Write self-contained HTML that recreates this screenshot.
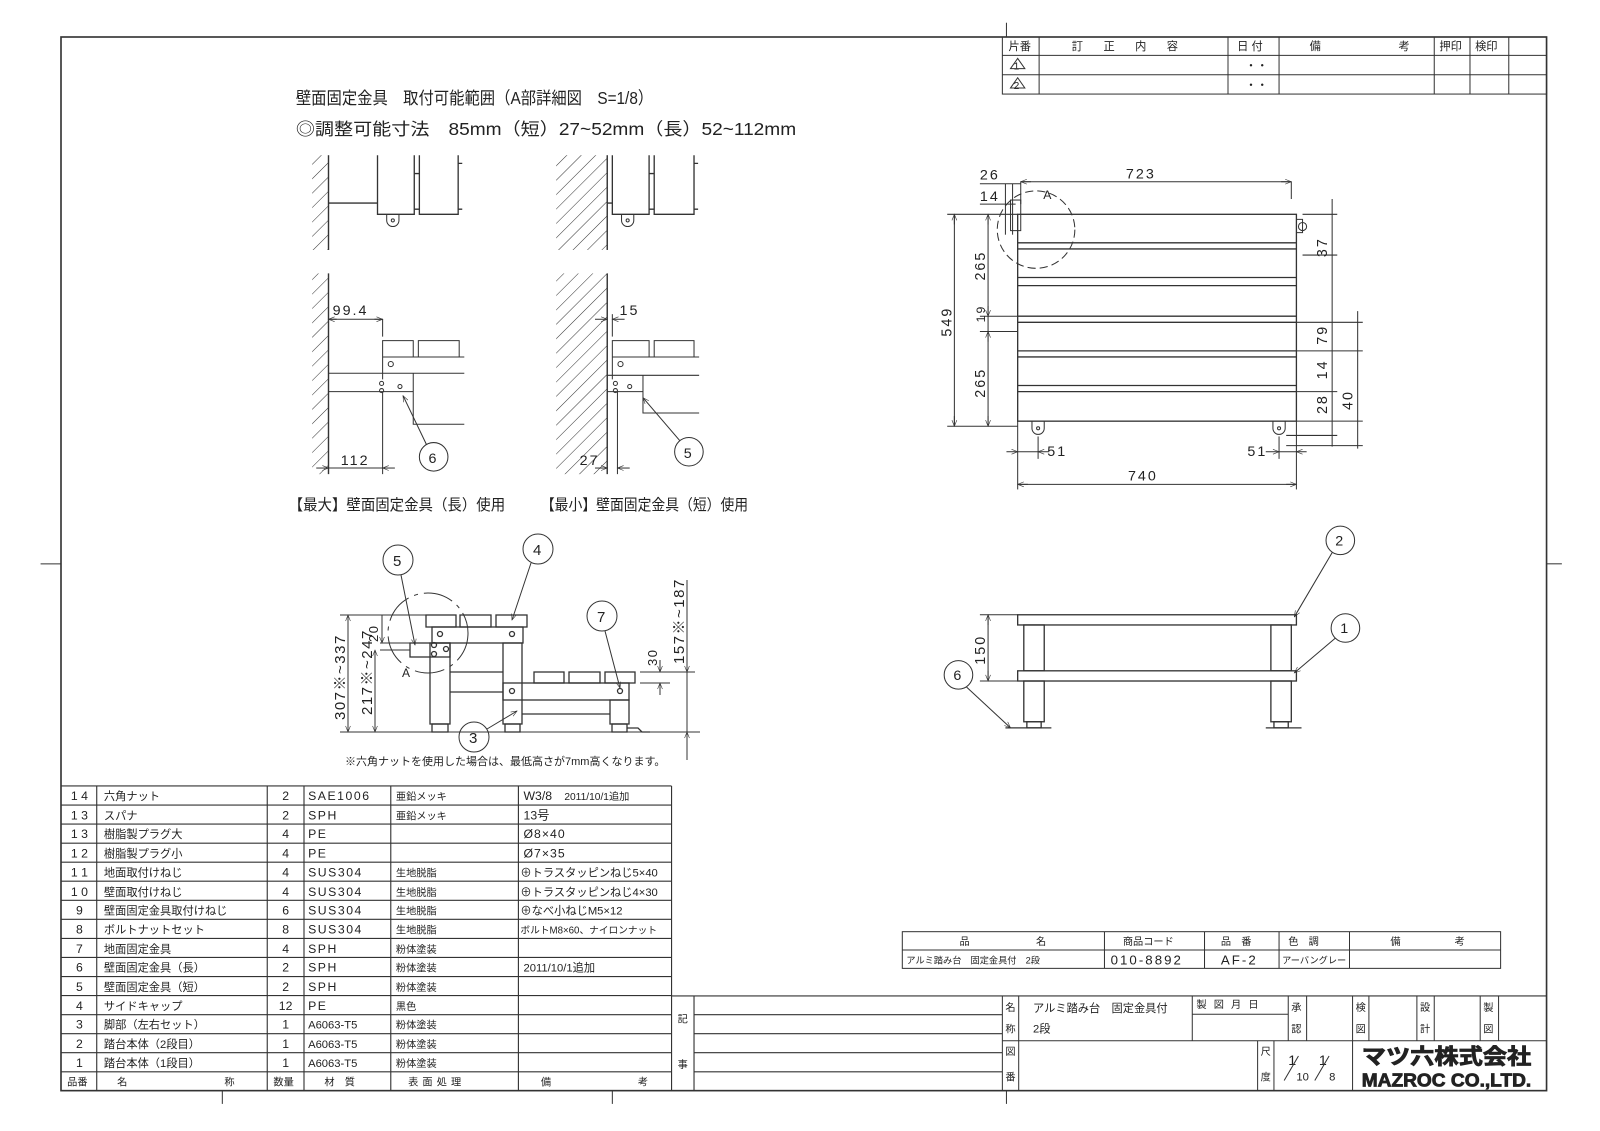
<!DOCTYPE html>
<html><head><meta charset="utf-8"><style>
html,body{margin:0;padding:0;background:#fff;}
svg{display:block}
text{font-family:"Liberation Sans","Noto Sans CJK JP",sans-serif;fill:#222}
</style></head><body>
<svg width="1600" height="1131" viewBox="0 0 1600 1131" xmlns="http://www.w3.org/2000/svg">
<defs>
<pattern id="h" width="10" height="10" patternUnits="userSpaceOnUse" patternTransform="rotate(45)">
<line x1="0" y1="0" x2="0" y2="10" stroke="#333" stroke-width="1"/>
</pattern>
<marker id="a" viewBox="0 0 10 10" refX="10" refY="5" markerWidth="8" markerHeight="6" orient="auto-start-reverse"><path d="M0,1 L10,5 L0,9" fill="none" stroke="#333"/></marker>
</defs>
<g transform="translate(61,37) scale(1.021,1.019) translate(-60,-36)" stroke="#333" fill="none" stroke-width="1">
<rect x="60" y="36" width="1455" height="1034" stroke-width="1.6"/>
<line x1="218" y1="1070" x2="218" y2="1083"/><line x1="600" y1="1070" x2="600" y2="1083"/><line x1="986" y1="1070" x2="986" y2="1083"/>
<line x1="40" y1="553" x2="60" y2="553"/><line x1="986" y1="22" x2="986" y2="36"/><line x1="1515" y1="553" x2="1530" y2="553"/>
<rect x="982" y="36" width="533" height="56"/>
<line x1="982" y1="54" x2="1515" y2="54"/><line x1="982" y1="73" x2="1515" y2="73"/>
<line x1="1018" y1="36" x2="1018" y2="92"/><line x1="1203" y1="36" x2="1203" y2="92"/><line x1="1253" y1="36" x2="1253" y2="92"/><line x1="1405" y1="36" x2="1405" y2="92"/><line x1="1440" y1="36" x2="1440" y2="92"/><line x1="1478" y1="36" x2="1478" y2="92"/>
<g stroke="none" font-size="11">
<text x="988" y="49">片番</text><text x="1050" y="49" letter-spacing="20">訂正内容</text><text x="1212" y="49">日 付</text><text x="1283" y="49">備</text><text x="1370" y="49">考</text><text x="1410" y="49">押印</text><text x="1445" y="49">検印</text>
<text x="1220" y="68">・・</text><text x="1220" y="87">・・</text><text x="993" y="68" font-size="10">1</text><text x="993" y="87" font-size="10">2</text>
</g>
<path d="M990,67 L997,57 L1004,67Z M990,86 L997,76 L1004,86Z"/>
<g stroke="none" font-size="17">
<text x="290" y="102" textLength="350" lengthAdjust="spacingAndGlyphs">壁面固定金具　取付可能範囲（A部詳細図　S=1/8）</text>
<text x="290" y="132" textLength="490" lengthAdjust="spacingAndGlyphs">◎調整可能寸法　85mm（短）27~52mm（長）52~112mm</text>
<text x="283" y="500" font-size="15" textLength="212" lengthAdjust="spacingAndGlyphs">【最大】壁面固定金具（長）使用</text>
<text x="530" y="500" font-size="15" textLength="203" lengthAdjust="spacingAndGlyphs">【最小】壁面固定金具（短）使用</text>
</g>
<rect x="306" y="152" width="16" height="93" fill="url(#h)" stroke="none"/>
<line x1="322" y1="152" x2="322" y2="245" stroke-width="1.4"/>
<path d="M322,199 H370 M370,152 V210 H406 V152 M411,152 V210 H449 V152 M406,170 H411 M406,205 H411 M449,160 H453 M449,205 H453" stroke-width="1.3"/>
<path d="M379,210 V216 A6,6 0 0 0 391,216 V210"/><circle cx="385" cy="216" r="1.5"/>
<rect x="545" y="152" width="50" height="93" fill="url(#h)" stroke="none"/>
<line x1="595" y1="152" x2="595" y2="245" stroke-width="1.4"/>
<path d="M595,199 H600 M600,152 V210 H636 V152 M641,152 V210 H680 V152 M636,170 H641 M636,205 H641 M680,160 H684 M680,205 H684" stroke-width="1.3"/>
<path d="M609,210 V216 A6,6 0 0 0 621,216 V210"/><circle cx="615" cy="216" r="1.5"/>
<rect x="306" y="268" width="16" height="197" fill="url(#h)" stroke="none"/>
<line x1="322" y1="268" x2="322" y2="465" stroke-width="1.4"/>
<path d="M375,334 H405 V350 H375Z M410,334 H450 V350 H410Z M375,350 V372 M375,350 H455 M322,366 H405 V384 H322 M405,366 H455 M405,384 V416 H455 M375,384 V465"/>
<circle cx="383" cy="357" r="2.5"/><circle cx="374" cy="376" r="2"/><circle cx="374" cy="383" r="2"/><circle cx="392" cy="379" r="2"/>
<path d="M322,313 H375 M375,313 V330" /><line x1="330" y1="313" x2="322" y2="313" marker-end="url(#a)"/><line x1="367" y1="313" x2="375" y2="313" marker-end="url(#a)"/>
<line x1="310" y1="459" x2="322" y2="459" marker-end="url(#a)"/><line x1="387" y1="459" x2="375" y2="459" marker-end="url(#a)"/><line x1="322" y1="459" x2="375" y2="459"/>
<circle cx="425" cy="448" r="14"/><line x1="418" y1="436" x2="395" y2="388" marker-end="url(#a)"/>
<g stroke="none" font-size="14"><text x="326" y="309" letter-spacing="2">99.4</text><text x="334" y="456" letter-spacing="2">112</text><text x="420" y="454">6</text></g>
<rect x="545" y="268" width="50" height="197" fill="url(#h)" stroke="none"/>
<line x1="595" y1="268" x2="595" y2="465" stroke-width="1.4"/>
<path d="M600,334 H636 V350 H600Z M641,334 H680 V350 H641Z M600,350 V372 M600,350 H685 M595,368 H630 V384 H595 M630,368 H685 M630,384 V405 H685 M605,384 V465"/>
<circle cx="608" cy="357" r="2.5"/><circle cx="603" cy="376" r="2"/><circle cx="603" cy="383" r="2"/><circle cx="617" cy="379" r="2"/>
<line x1="583" y1="313" x2="595" y2="313" marker-end="url(#a)"/><line x1="612" y1="313" x2="600" y2="313" marker-end="url(#a)"/><line x1="600" y1="308" x2="600" y2="330"/>
<line x1="583" y1="459" x2="595" y2="459" marker-end="url(#a)"/><line x1="617" y1="459" x2="605" y2="459" marker-end="url(#a)"/>
<circle cx="675" cy="443" r="14"/><line x1="666" y1="432" x2="630" y2="390" marker-end="url(#a)"/>
<g stroke="none" font-size="14"><text x="607" y="309" letter-spacing="2">15</text><text x="568" y="456" letter-spacing="2">27</text><text x="670" y="449">5</text></g>
<g stroke-width="1.3">
<rect x="997" y="210" width="273" height="203"/>
<line x1="997" y1="238" x2="1270" y2="238"/><line x1="997" y1="244" x2="1270" y2="244"/>
<line x1="997" y1="272" x2="1270" y2="272"/><line x1="997" y1="280" x2="1270" y2="280"/>
<line x1="997" y1="310" x2="1270" y2="310"/><line x1="997" y1="316" x2="1270" y2="316"/>
<line x1="997" y1="344" x2="1270" y2="344"/><line x1="997" y1="350" x2="1270" y2="350"/>
<line x1="997" y1="378" x2="1270" y2="378"/><line x1="997" y1="384" x2="1270" y2="384"/>
</g>
<path d="M1011,413 V420 A6,6 0 0 0 1023,420 V413 M1247,413 V420 A6,6 0 0 0 1259,420 V413 M1270,215 H1276 V228 H1270"/>
<circle cx="1017" cy="420" r="1.5"/><circle cx="1253" cy="420" r="1.5"/><circle cx="1276" cy="222" r="4"/>
<rect x="990" y="196" width="10" height="30"/>
<circle cx="1015" cy="225" r="38" stroke-dasharray="8,4"/>
<line x1="1000" y1="178" x2="1265" y2="178"/><line x1="1000" y1="178" x2="1000" y2="200"/><line x1="1265" y1="178" x2="1265" y2="195" />
<line x1="1010" y1="178" x2="1000" y2="178" marker-end="url(#a)"/><line x1="1255" y1="178" x2="1265" y2="178" marker-end="url(#a)"/>
<line x1="985" y1="180" x2="985" y2="230"/><line x1="992" y1="180" x2="992" y2="230"/><line x1="960" y1="180" x2="1000" y2="180"/><line x1="960" y1="200" x2="995" y2="200"/>
<line x1="935" y1="210" x2="935" y2="418"/><line x1="928" y1="210" x2="997" y2="210"/><line x1="928" y1="418" x2="997" y2="418"/>
<line x1="935" y1="220" x2="935" y2="210" marker-end="url(#a)"/><line x1="935" y1="408" x2="935" y2="418" marker-end="url(#a)"/>
<line x1="968" y1="210" x2="968" y2="418"/><line x1="960" y1="310" x2="997" y2="310"/><line x1="960" y1="325" x2="997" y2="325"/>
<line x1="968" y1="220" x2="968" y2="210" marker-end="url(#a)"/><line x1="968" y1="300" x2="968" y2="310" marker-end="url(#a)"/><line x1="968" y1="335" x2="968" y2="325" marker-end="url(#a)"/><line x1="968" y1="408" x2="968" y2="418" marker-end="url(#a)"/>
<line x1="1305" y1="195" x2="1305" y2="438"/><line x1="1276" y1="210" x2="1310" y2="210"/><line x1="1276" y1="250" x2="1310" y2="250"/>
<line x1="1270" y1="316" x2="1335" y2="316"/><line x1="1270" y1="344" x2="1335" y2="344"/><line x1="1270" y1="384" x2="1310" y2="384"/><line x1="1270" y1="413" x2="1335" y2="413"/><line x1="1260" y1="427" x2="1310" y2="427"/><line x1="1260" y1="437" x2="1335" y2="437"/>
<line x1="1330" y1="305" x2="1330" y2="440"/>
<line x1="997" y1="443" x2="1017" y2="443"/><line x1="1028" y1="443" x2="1017" y2="443" marker-end="url(#a)"/><line x1="986" y1="443" x2="997" y2="443" marker-end="url(#a)"/>
<line x1="1253" y1="443" x2="1270" y2="443"/><line x1="1240" y1="443" x2="1253" y2="443" marker-end="url(#a)"/><line x1="1280" y1="443" x2="1270" y2="443" marker-end="url(#a)"/>
<line x1="997" y1="413" x2="997" y2="480"/><line x1="1270" y1="413" x2="1270" y2="480"/><line x1="1017" y1="428" x2="1017" y2="450"/><line x1="1253" y1="428" x2="1253" y2="450"/>
<line x1="997" y1="475" x2="1270" y2="475"/><line x1="1007" y1="475" x2="997" y2="475" marker-end="url(#a)"/><line x1="1260" y1="475" x2="1270" y2="475" marker-end="url(#a)"/>
<g stroke="none" font-size="14" letter-spacing="2">
<text x="1103" y="175">723</text><text x="960" y="176">26</text><text x="960" y="197">14</text><text x="1022" y="195" font-size="12">A</text>
<text x="1105" y="471">740</text><text x="1026" y="447">51</text><text x="1222" y="447">51</text>
<text transform="translate(932,330) rotate(-90)">549</text>
<text transform="translate(965,275) rotate(-90)">265</text>
<text transform="translate(965,316) rotate(-90)" font-size="12">19</text>
<text transform="translate(965,390) rotate(-90)">265</text>
<text transform="translate(1300,252) rotate(-90)">37</text>
<text transform="translate(1300,338) rotate(-90)">79</text>
<text transform="translate(1300,372) rotate(-90)">14</text>
<text transform="translate(1300,406) rotate(-90)">28</text>
<text transform="translate(1325,402) rotate(-90)">40</text>
</g>
<g stroke-width="1.3">
<rect x="997" y="603" width="273" height="10"/><rect x="997" y="658" width="273" height="10"/>
<rect x="1003" y="613" width="20" height="45"/><rect x="1245" y="613" width="20" height="45"/>
<rect x="1003" y="668" width="20" height="40"/><rect x="1245" y="668" width="20" height="40"/>
<rect x="1006" y="708" width="14" height="6"/><rect x="1248" y="708" width="14" height="6"/>
<path d="M985,714 H1030 M1240,714 H1275"/>
</g>
<line x1="960" y1="603" x2="997" y2="603"/><line x1="960" y1="668" x2="997" y2="668"/><line x1="968" y1="603" x2="968" y2="668"/>
<line x1="968" y1="613" x2="968" y2="603" marker-end="url(#a)"/><line x1="968" y1="658" x2="968" y2="668" marker-end="url(#a)"/>
<circle cx="1313" cy="530" r="14"/><line x1="1305" y1="542" x2="1268" y2="605" marker-end="url(#a)"/>
<circle cx="1318" cy="616" r="14"/><line x1="1308" y1="626" x2="1268" y2="660" marker-end="url(#a)"/>
<circle cx="939" cy="662" r="14"/><line x1="947" y1="674" x2="990" y2="714" marker-end="url(#a)"/>
<g stroke="none" font-size="14"><text x="1308" y="535">2</text><text x="1313" y="621">1</text><text x="934" y="667">6</text>
<text transform="translate(965,652) rotate(-90)" letter-spacing="2">150</text></g>
<g stroke-width="1.1">
<line x1="60" y1="771" x2="658" y2="771"/>
<line x1="60" y1="789.7" x2="658" y2="789.7"/><line x1="60" y1="808.4" x2="658" y2="808.4"/><line x1="60" y1="827.1" x2="658" y2="827.1"/><line x1="60" y1="845.8" x2="658" y2="845.8"/><line x1="60" y1="864.5" x2="658" y2="864.5"/><line x1="60" y1="883.2" x2="658" y2="883.2"/><line x1="60" y1="901.9" x2="658" y2="901.9"/><line x1="60" y1="920.6" x2="658" y2="920.6"/><line x1="60" y1="939.3" x2="658" y2="939.3"/><line x1="60" y1="958" x2="658" y2="958"/><line x1="60" y1="976.7" x2="658" y2="976.7"/><line x1="60" y1="995.4" x2="658" y2="995.4"/><line x1="60" y1="1014.1" x2="658" y2="1014.1"/><line x1="60" y1="1032.8" x2="658" y2="1032.8"/><line x1="60" y1="1051.5" x2="658" y2="1051.5"/>
<line x1="95" y1="771" x2="95" y2="1070"/><line x1="262" y1="771" x2="262" y2="1070"/><line x1="298" y1="771" x2="298" y2="1070"/><line x1="383" y1="771" x2="383" y2="1070"/><line x1="508" y1="771" x2="508" y2="1070"/><line x1="658" y1="771" x2="658" y2="1070"/>
<line x1="680" y1="977" x2="680" y2="1070"/>
<line x1="680" y1="995.4" x2="982" y2="995.4"/><line x1="680" y1="1014.1" x2="982" y2="1014.1"/><line x1="680" y1="1032.8" x2="982" y2="1032.8"/><line x1="680" y1="1051.5" x2="982" y2="1051.5"/>
<line x1="658" y1="977" x2="1515" y2="977"/>
</g>
<g stroke="none" font-size="12">
<g text-anchor="middle">
<text x="78" y="785">1 4</text><text x="78" y="804">1 3</text><text x="78" y="822">1 3</text><text x="78" y="841">1 2</text><text x="78" y="860">1 1</text><text x="78" y="879">1 0</text><text x="78" y="897">9</text><text x="78" y="916">8</text><text x="78" y="935">7</text><text x="78" y="953">6</text><text x="78" y="972">5</text><text x="78" y="991">4</text><text x="78" y="1009">3</text><text x="78" y="1028">2</text><text x="78" y="1047">1</text>
<text x="280" y="785">2</text><text x="280" y="804">2</text><text x="280" y="822">4</text><text x="280" y="841">4</text><text x="280" y="860">4</text><text x="280" y="879">4</text><text x="280" y="897">6</text><text x="280" y="916">8</text><text x="280" y="935">4</text><text x="280" y="953">2</text><text x="280" y="972">2</text><text x="280" y="991">12</text><text x="280" y="1009">1</text><text x="280" y="1028">1</text><text x="280" y="1047">1</text>
</g>
<g font-size="11">
<text x="102" y="785">六角ナット</text><text x="102" y="804">スパナ</text><text x="102" y="822">樹脂製プラグ大</text><text x="102" y="841">樹脂製プラグ小</text><text x="102" y="860">地面取付けねじ</text><text x="102" y="879">壁面取付けねじ</text><text x="102" y="897">壁面固定金具取付けねじ</text><text x="102" y="916">ボルトナットセット</text><text x="102" y="935">地面固定金具</text><text x="102" y="953">壁面固定金具（長）</text><text x="102" y="972">壁面固定金具（短）</text><text x="102" y="991">サイドキャップ</text><text x="102" y="1009">脚部（左右セット）</text><text x="102" y="1028">踏台本体（2段目）</text><text x="102" y="1047">踏台本体（1段目）</text>
</g>
<g letter-spacing="1.5">
<text x="302" y="785">SAE1006</text><text x="302" y="804">SPH</text><text x="302" y="822">PE</text><text x="302" y="841">PE</text><text x="302" y="860">SUS304</text><text x="302" y="879">SUS304</text><text x="302" y="897">SUS304</text><text x="302" y="916">SUS304</text><text x="302" y="935">SPH</text><text x="302" y="953">SPH</text><text x="302" y="972">SPH</text><text x="302" y="991">PE</text>
</g>
<text x="302" y="1009" font-size="11">A6063-T5</text><text x="302" y="1028" font-size="11">A6063-T5</text><text x="302" y="1047" font-size="11">A6063-T5</text>
<g font-size="10">
<text x="388" y="785">亜鉛メッキ</text><text x="388" y="804">亜鉛メッキ</text><text x="388" y="860">生地脱脂</text><text x="388" y="879">生地脱脂</text><text x="388" y="897">生地脱脂</text><text x="388" y="916">生地脱脂</text><text x="388" y="935">粉体塗装</text><text x="388" y="953">粉体塗装</text><text x="388" y="972">粉体塗装</text><text x="388" y="991">黒色</text><text x="388" y="1009">粉体塗装</text><text x="388" y="1028">粉体塗装</text><text x="388" y="1047">粉体塗装</text>
</g>
<text x="513" y="785">W3/8　<tspan font-size="10">2011/10/1追加</tspan></text><text x="513" y="804">13号</text><text x="513" y="822" letter-spacing="1">Ø8×40</text><text x="513" y="841" letter-spacing="1">Ø7×35</text>
<text x="510" y="860" font-size="11">⊕トラスタッピンねじ5×40</text><text x="510" y="879" font-size="11">⊕トラスタッピンねじ4×30</text><text x="510" y="897" font-size="11">⊕なべ小ねじM5×12</text><text x="510" y="916" font-size="9.5">ボルトM8×60、ナイロンナット</text><text x="513" y="953" font-size="11">2011/10/1追加</text>
<g font-size="10"><text x="66" y="1065">品番</text><text x="115" y="1065">名</text><text x="220" y="1065">称</text><text x="268" y="1065">数量</text><text x="318" y="1065">材　質</text><text x="400" y="1065" letter-spacing="4">表面処理</text><text x="530" y="1065">備</text><text x="625" y="1065">考</text>
<text x="664" y="1003">記</text><text x="664" y="1048">事</text></g>
</g>
<rect x="884" y="914" width="586" height="36"/><line x1="884" y1="932" x2="1470" y2="932"/>
<line x1="1082" y1="914" x2="1082" y2="950"/><line x1="1180" y1="914" x2="1180" y2="950"/><line x1="1253" y1="914" x2="1253" y2="950"/><line x1="1322" y1="914" x2="1322" y2="950"/>
<g stroke="none" font-size="10">
<text x="940" y="927">品</text><text x="1015" y="927">名</text><text x="1100" y="927">商品コード</text><text x="1196" y="927">品　番</text><text x="1262" y="927">色　調</text><text x="1362" y="927">備</text><text x="1425" y="927">考</text>
<text x="888" y="945" font-size="9">アルミ踏み台　固定金具付　2段</text><text x="1088" y="946" font-size="13" letter-spacing="2">010-8892</text><text x="1196" y="946" font-size="13" letter-spacing="2">AF-2</text><text x="1256" y="945" font-size="9">アーバングレー</text>
</g>
<line x1="982" y1="977" x2="982" y2="1070"/><line x1="998" y1="977" x2="998" y2="1070"/><line x1="982" y1="1021" x2="1515" y2="1021"/>
<line x1="1168" y1="977" x2="1168" y2="1021"/><line x1="1168" y1="995" x2="1262" y2="995"/><line x1="1262" y1="977" x2="1262" y2="1021"/><line x1="1280" y1="977" x2="1280" y2="1021"/><line x1="1325" y1="977" x2="1325" y2="1070"/><line x1="1341" y1="977" x2="1341" y2="1021"/><line x1="1388" y1="977" x2="1388" y2="1021"/><line x1="1405" y1="977" x2="1405" y2="1021"/><line x1="1450" y1="977" x2="1450" y2="1021"/><line x1="1468" y1="977" x2="1468" y2="1021"/>
<line x1="1232" y1="1021" x2="1232" y2="1070"/><line x1="1248" y1="1021" x2="1248" y2="1070"/>
<g stroke="none" font-size="10">
<text x="985" y="992">名</text><text x="985" y="1013">称</text><text x="985" y="1035">図</text><text x="985" y="1060">番</text>
<text x="1012" y="993" font-size="11">アルミ踏み台　固定金具付</text><text x="1012" y="1013" font-size="11">2段</text>
<text x="1172" y="989" letter-spacing="7">製図月日</text>
<text x="1265" y="992">承</text><text x="1265" y="1013">認</text><text x="1328" y="992">検</text><text x="1328" y="1013">図</text><text x="1391" y="992">設</text><text x="1391" y="1013">計</text><text x="1453" y="992">製</text><text x="1453" y="1013">図</text>
<text x="1235" y="1035">尺</text><text x="1235" y="1060">度</text>
<text x="1262" y="1045" font-size="14">1</text><text x="1270" y="1060" font-size="11">10</text><text x="1292" y="1045" font-size="14">1</text><text x="1302" y="1060" font-size="11">8</text>
<text x="1334" y="1044" font-size="21" font-weight="bold" fill="#fff" stroke="#222" stroke-width="0.8" textLength="166" lengthAdjust="spacingAndGlyphs">マツ六株式会社</text>
<text x="1334" y="1066" font-size="18" font-weight="bold" fill="#fff" stroke="#222" stroke-width="0.8" textLength="166" lengthAdjust="spacingAndGlyphs">MAZROC CO.,LTD.</text>
</g>
<path d="M1258,1060 L1272,1036 M1288,1060 L1302,1036"/>
</g>
<g stroke="#333" fill="none" stroke-width="1.3">
<rect x="426" y="615" width="30" height="12"/><rect x="460" y="615" width="31" height="12"/><rect x="496" y="615" width="31" height="12"/>
<rect x="432" y="627" width="91" height="16"/><circle cx="440" cy="634" r="2.5"/><circle cx="512" cy="634" r="2.5"/>
<rect x="430" y="643" width="20" height="81"/><rect x="432" y="724" width="16" height="8"/>
<rect x="503" y="643" width="19" height="81"/><rect x="505" y="724" width="15" height="8"/>
<line x1="450" y1="672" x2="503" y2="672"/><line x1="450" y1="692" x2="503" y2="692"/>
<rect x="534" y="672" width="30" height="11"/><rect x="569" y="672" width="31" height="11"/><rect x="605" y="672" width="30" height="11"/>
<rect x="503" y="683" width="126" height="17"/><circle cx="512" cy="691" r="2.5"/><circle cx="620" cy="691" r="2.5"/>
<rect x="610" y="700" width="19" height="24"/><rect x="612" y="724" width="15" height="8"/><path d="M627,728 H638 L642,732 H650"/>
<line x1="522" y1="714" x2="610" y2="714"/>
<rect x="410" y="643" width="40" height="14"/><circle cx="434" cy="645" r="2.5"/><circle cx="434" cy="654" r="2.5"/><circle cx="446" cy="649" r="2.5"/>
</g>
<g stroke="#333" fill="none" stroke-width="1">
<circle cx="428" cy="633" r="40" stroke-dasharray="30,6,4,6"/>
<line x1="340" y1="615" x2="426" y2="615"/><line x1="340" y1="732" x2="700" y2="732"/>
<line x1="348" y1="615" x2="348" y2="732"/><line x1="348" y1="625" x2="348" y2="615" marker-end="url(#a)"/><line x1="348" y1="722" x2="348" y2="732" marker-end="url(#a)"/>
<line x1="375" y1="650" x2="375" y2="732"/><line x1="375" y1="660" x2="375" y2="650" marker-end="url(#a)"/><line x1="375" y1="722" x2="375" y2="732" marker-end="url(#a)"/>
<line x1="380" y1="643" x2="410" y2="643"/><line x1="380" y1="650" x2="410" y2="650"/><line x1="382" y1="615" x2="382" y2="643" marker-end="url(#a)"/>
<line x1="687" y1="580" x2="687" y2="760"/><line x1="640" y1="672" x2="695" y2="672"/><line x1="640" y1="683" x2="670" y2="683"/>
<line x1="687" y1="660" x2="687" y2="672" marker-end="url(#a)"/><line x1="687" y1="745" x2="687" y2="732" marker-end="url(#a)"/>
<line x1="660" y1="660" x2="660" y2="672" marker-end="url(#a)"/><line x1="660" y1="695" x2="660" y2="683" marker-end="url(#a)"/>
<circle cx="398" cy="560" r="15"/><line x1="401" y1="575" x2="415" y2="645" marker-end="url(#a)"/>
<circle cx="538" cy="549" r="15"/><line x1="531" y1="563" x2="512" y2="620" marker-end="url(#a)"/>
<circle cx="602" cy="616" r="15"/><line x1="605" y1="631" x2="620" y2="688" marker-end="url(#a)"/>
<circle cx="474" cy="737" r="15"/><line x1="487" y1="729" x2="517" y2="711" marker-end="url(#a)"/>
</g>
<g font-size="15" letter-spacing="1.5">
<text x="393" y="566">5</text><text x="533" y="555">4</text><text x="597" y="622">7</text><text x="469" y="743">3</text><text x="402" y="677" font-size="12">A</text>
<text transform="translate(345,720) rotate(-90)">307※~337</text>
<text transform="translate(372,715) rotate(-90)">217※~247</text>
<text transform="translate(378,642) rotate(-90)" font-size="13">20</text>
<text transform="translate(684,664) rotate(-90)">157※~187</text>
<text transform="translate(657,666) rotate(-90)" font-size="13">30</text>
<text x="345" y="765" font-size="11" letter-spacing="0">※六角ナットを使用した場合は、最低高さが7mm高くなります。</text>
</g>
</svg>
</body></html>
